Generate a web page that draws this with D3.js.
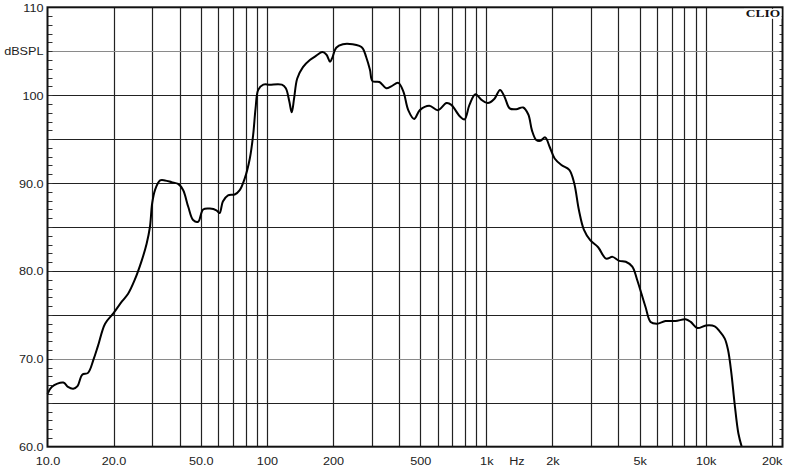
<!DOCTYPE html>
<html><head><meta charset="utf-8">
<script src="https://cdn.jsdelivr.net/npm/d3@7"></script>
<style>
html,body{margin:0;padding:0;background:#fff;}
svg{display:block;}
</style></head>
<body>
<svg id="c" width="800" height="467"></svg>
<script>
const freq = [10,10.45,11.8,12.4,13.1,13.7,14.4,15.3,16.2,17.0,18.3,20.0,21.8,23.3,25.0,26.9,28.3,29.3,30.0,30.9,32.6,34.3,36.8,39.4,41.5,43.8,46.1,48.6,51.2,55.0,58.9,60.9,63.0,66.5,71.3,75.2,79.2,83.6,86.6,88.8,91.3,96.3,103,117,122,126.5,129.8,133,137.5,146,157,168,179,187,194,199,207,222,246,264,274,283,295,303,326,350,369,397,419,441,469,498,550,602,659,693,757,796,838,892,948,1016,1090,1155,1212,1278,1369,1473,1555,1615,1690,1764,1855,1946,2050,2200,2390,2515,2645,2785,2977,3235,3515,3765,4040,4325,4630,4870,5320,5610,6010,6560,7290,8100,8550,9170,10030,11000,11600,12220,12650,13100,13550,14100,14600];
const spl = [66.0,66.8,67.3,66.8,66.6,66.9,68.2,68.4,69.9,71.5,74.0,75.2,76.5,77.4,79.0,81.2,83.1,85.0,87.7,89.2,90.3,90.3,90.1,89.9,89.2,87.3,85.8,85.6,87.0,87.1,86.9,86.6,87.9,88.6,88.7,89.2,90.5,92.8,95.5,98.5,100.6,101.2,101.2,101.2,100.8,99.3,98.05,99.6,101.9,103.2,104.0,104.5,104.9,104.6,103.8,104.3,105.4,105.8,105.8,105.6,105.3,104.4,102.9,101.6,101.5,100.8,101.0,101.4,100.4,98.3,97.3,98.3,98.8,98.3,99.1,98.9,97.6,97.25,98.9,100.1,99.5,99.1,99.6,100.6,99.8,98.5,98.4,98.6,97.8,96.0,94.9,94.8,95.2,94.1,92.8,92.05,91.5,90.0,86.9,84.7,83.5,82.7,81.4,81.6,81.15,81.05,80.5,79.0,75.9,74.2,74.0,74.3,74.3,74.5,74.2,73.5,73.8,73.7,73.1,72.3,71.0,68.35,64.9,61.5,60.0];

const xTickVals = [10,20,50,100,200,500,1000,2000,5000,10000,20000];
const xTickLabels = ["10.0","20.0","50.0","100","200","500","1k","2k","5k","10k","20k"];
const yTickVals = [60,70,80,90,100,110];
const yTickLabels = ["60.0","70.0","80.0","90.0","100","110"];
const xGridVals = [20,30,40,50,60,70,80,90,100,200,300,400,500,600,700,800,900,1000,2000,3000,4000,5000,6000,7000,8000,9000,10000,20000];
const yGridVals = [65,70,75,80,85,90,95,100,105];
const yLightGrid = [70,105];
const yUnit = "dBSPL";
const xUnit = "Hz";
const brand = "CLIO";

const L = 47.5, R = 782.5, T = 7.3, B = 446.7;
const svg = d3.select("#c");
const x = d3.scaleLog().domain([10, 22400]).range([L, R]);
const y = d3.scaleLinear().domain([60, 110]).range([B, T]);

// grid
svg.append("g").selectAll("line").data(xGridVals).join("line")
  .attr("x1", d => Math.round(x(d)) + 0.5).attr("x2", d => Math.round(x(d)) + 0.5)
  .attr("y1", T).attr("y2", B)
  .attr("stroke", "#222").attr("stroke-width", 1.2);
svg.append("g").selectAll("line").data(yGridVals).join("line")
  .attr("x1", L).attr("x2", R)
  .attr("y1", d => Math.round(y(d)) + 0.5).attr("y2", d => Math.round(y(d)) + 0.5)
  .attr("stroke", d => yLightGrid.includes(d) ? "#8a8a8a" : "#222").attr("stroke-width", 1.2);

// minor ticks on left & right
const minor = d3.range(61, 110, 1);
svg.append("g").selectAll("line").data(minor).join("line")
  .attr("x1", L).attr("x2", L + 5)
  .attr("y1", d => Math.round(y(d)) + 0.5).attr("y2", d => Math.round(y(d)) + 0.5)
  .attr("stroke", "#333").attr("stroke-width", 1);
svg.append("g").selectAll("line").data(minor).join("line")
  .attr("x1", R - 3).attr("x2", R)
  .attr("y1", d => Math.round(y(d)) + 0.5).attr("y2", d => Math.round(y(d)) + 0.5)
  .attr("stroke", "#333").attr("stroke-width", 1);

// curve
const pts = freq.map((f, i) => [f, spl[i]]);
const lineGen = d3.line().x(d => x(d[0])).y(d => y(d[1])).curve(d3.curveCatmullRom.alpha(0.5));
svg.append("path").datum(pts)
  .attr("fill", "none").attr("stroke", "#000").attr("stroke-width", 2)
  .attr("stroke-linejoin", "round")
  .attr("d", lineGen);

// frame
svg.append("rect").attr("x", L).attr("y", T).attr("width", R - L).attr("height", B - T)
  .attr("fill", "none").attr("stroke", "#111").attr("stroke-width", 2);

// axes (labels only)
const font = "'Liberation Sans', Arial, sans-serif";
const xAxis = d3.axisBottom(x).tickValues(xTickVals).tickFormat((d, i) => xTickLabels[i]).tickSize(0).tickPadding(0);
const gx = svg.append("g").attr("transform", `translate(0,${B})`).call(xAxis);
gx.select(".domain").remove();
gx.selectAll("text").attr("y", 18).attr("dy", 0)
  .attr("font-family", font).attr("font-size", 11).attr("fill", "#222")
  .attr("transform", "scale(1.15,1)");

const yAxis = d3.axisLeft(y).tickValues(yTickVals).tickFormat((d, i) => yTickLabels[i]).tickSize(0).tickPadding(0);
const gy = svg.append("g").attr("transform", `translate(${L - 4},0)`).call(yAxis);
gy.select(".domain").remove();
gy.selectAll("text").attr("x", 0).attr("dy", "0.36em")
  .attr("font-family", font).attr("font-size", 11).attr("fill", "#222")
  .attr("transform", "scale(1.15,1)");

svg.append("text").attr("x", L - 4).attr("y", y(105)).attr("dy", "0.36em")
  .attr("text-anchor", "end").attr("font-family", font).attr("font-size", 11).attr("fill", "#222")
  .attr("transform", `translate(${-(L-4)*0.15},0) scale(1.15,1)`)
  .text(yUnit);

svg.append("text").attr("x", x(1380)).attr("y", B + 18)
  .attr("text-anchor", "middle").attr("font-family", font).attr("font-size", 11).attr("fill", "#222")
  .attr("transform", `translate(${-x(1380)*0.15},0) scale(1.15,1)`)
  .text(xUnit);

// brand
svg.append("rect").attr("x", 744).attr("y", T + 1.5).attr("width", R - 1 - 744).attr("height", 10).attr("fill", "#fff");
svg.append("text").attr("x", 763).attr("y", 17.5).attr("text-anchor", "middle")
  .attr("font-family", "'Liberation Serif', 'Times New Roman', serif").attr("font-weight", "bold")
  .attr("font-size", 11).attr("fill", "#111")
  .attr("transform", `translate(${-763*0.22},0) scale(1.22,1)`)
  .text(brand);
</script>
</body></html>
